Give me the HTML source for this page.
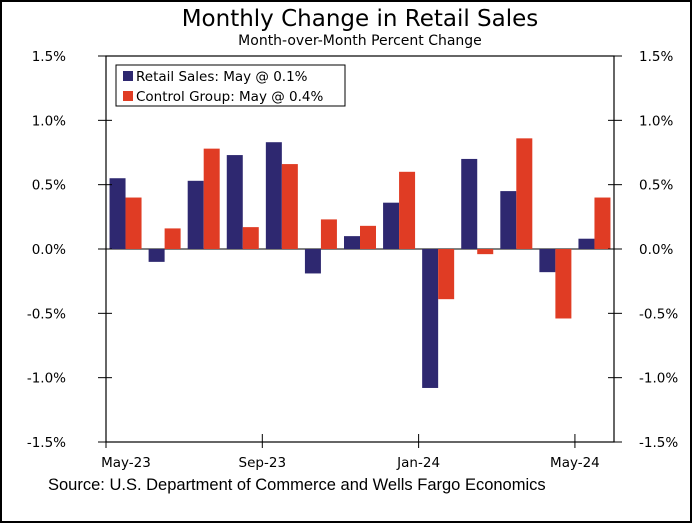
<!DOCTYPE html>
<html><head><meta charset="utf-8"><style>
body{margin:0;background:#fff}
svg{display:block;font-family:"DejaVu Sans","Liberation Sans",sans-serif}
</style></head><body>
<svg id="c" width="692" height="523">
<rect x="1" y="1" width="690" height="521" fill="#fff" stroke="#000" stroke-width="2"/>
<text x="360" y="26" font-size="23" text-anchor="middle">Monthly Change in Retail Sales</text>
<text x="360" y="45" font-size="14" text-anchor="middle">Month-over-Month Percent Change</text>
<text x="48" y="490" font-size="16.5" font-family="Liberation Sans, sans-serif">Source: U.S. Department of Commerce and Wells Fargo Economics</text>
<g id="plot"></g>
<g>
<rect x="116" y="65" width="229" height="41" fill="#fff" stroke="#000"/>
<rect x="123" y="71" width="10" height="10" fill="#2e2870"/>
<text x="136" y="81" font-size="13.5">Retail Sales: May @ 0.1%</text>
<rect x="123" y="91" width="10" height="10" fill="#e03c24"/>
<text x="136" y="101" font-size="13.5">Control Group: May @ 0.4%</text>
</g>
</svg>
<script>
const months=["May-23","Jun-23","Jul-23","Aug-23","Sep-23","Oct-23","Nov-23","Dec-23","Jan-24","Feb-24","Mar-24","Apr-24","May-24"];
const retail=[0.55,-0.1,0.53,0.73,0.83,-0.19,0.1,0.36,-1.08,0.7,0.45,-0.18,0.08];
const control=[0.4,0.16,0.78,0.17,0.66,0.23,0.18,0.6,-0.39,-0.04,0.86,-0.54,0.4];
const yTicks=[1.5,1.0,0.5,0.0,-0.5,-1.0,-1.5];
const yLabels=["1.5%","1.0%","0.5%","0.0%","-0.5%","-1.0%","-1.5%"];
const xTickIdx=[0,4,8,12];
const L=106,R=614,T=56,B=442;
const band=(R-L)/months.length;
const y=v=>T+(1.5-v)/3*(B-T);
const x=i=>L+i*band;
const g=document.getElementById('plot');
const NS="http://www.w3.org/2000/svg";
function mk(t,a){const e=document.createElementNS(NS,t);for(const k in a)e.setAttribute(k,a[k]);g.appendChild(e);return e;}
let e;
e=mk('rect',{x:L,y:T,width:R-L,height:B-T,fill:'none',stroke:'#000','stroke-width':1.2});


e=mk('line',{x1:L,x2:R,y1:y(0),y2:y(0),stroke:'#000','stroke-width':1});


const bw=16;
months.forEach((m,i)=>{
  const c=x(i)+band/2;
  let r=mk('rect',{x:c-bw,y:Math.min(y(0),y(retail[i])),width:bw,height:Math.abs(y(retail[i])-y(0)),fill:'#2e2870'});
  
  
  let q=mk('rect',{x:c,y:Math.min(y(0),y(control[i])),width:bw,height:Math.abs(y(control[i])-y(0)),fill:'#e03c24'});
  
  
});
yTicks.forEach((v,k)=>{
  let t=mk('line',{x1:L-8,x2:L+6,y1:y(v),y2:y(v),stroke:'#000'});
  
  
  t=mk('line',{x1:R-6,x2:R+8,y1:y(v),y2:y(v),stroke:'#000'});
  
  
  let a=mk('text',{x:L-40,y:y(v)+5,'font-size':13.5,'text-anchor':'end'});a.textContent=yLabels[k];
  
  
  let b=mk('text',{x:R+25,y:y(v)+5,'font-size':13.5});b.textContent=yLabels[k];
  
  
});
xTickIdx.forEach(i=>{
  const px=x(i);
  let t=mk('line',{x1:px,x2:px,y1:B-8,y2:B+6,stroke:'#000'});
  
  
  let a=mk('text',{x:Math.max(px,126),y:B+25,'font-size':13.5,'text-anchor':'middle'});a.textContent=months[i];
  
  
});
</script>
</body></html>
